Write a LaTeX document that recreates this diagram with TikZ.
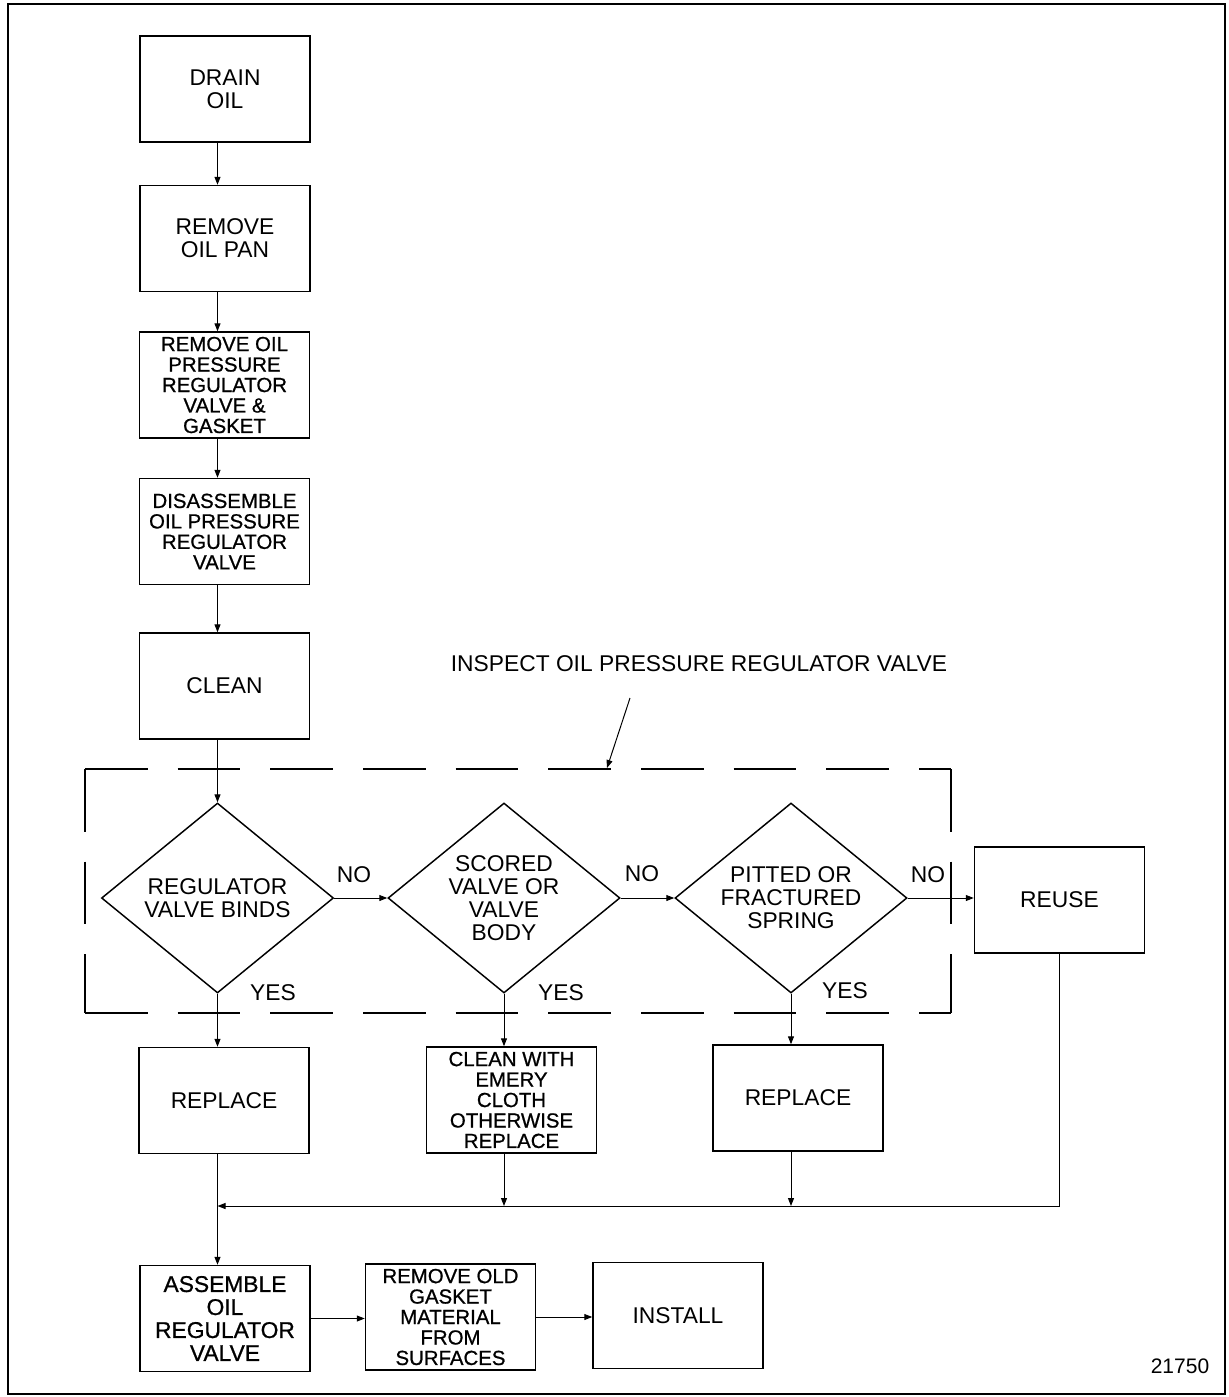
\documentclass[tikz,border=0pt]{standalone}
\usepackage{fontspec}
\setmainfont{Liberation Sans}
\newfontfamily\heavyface{Liberation Sans}[FakeBold=0.8]
\usetikzlibrary{arrows.meta,shapes.geometric}
\newcommand\bigtxt{\fontsize{17.1}{17.25}\selectfont}
\newcommand\heavybig{\heavyface\fontsize{17.1}{17.25}\selectfont}
\newcommand\heavysmall{\heavyface\fontsize{15.3}{15.35}\selectfont}
\begin{document}
\begin{tikzpicture}[x=0.75pt,y=-0.75pt,
  box/.style={draw,line width=1.1pt,minimum width=127.5pt,minimum height=79.5pt,
    inner sep=0pt,align=center,font=\bigtxt},
  densebox/.style={box,font=\heavysmall},
  decision/.style={draw,diamond,line width=1.1pt,minimum width=174pt,
    minimum height=142.5pt,aspect=1.22,inner sep=0pt,align=center,font=\bigtxt},
  arr/.style={line width=0.75pt,-{Triangle[length=6pt,width=4.5pt]}},
  link/.style={line width=0.75pt},
  lbl/.style={inner sep=0pt,font=\bigtxt},
  group/.style={line width=1.9pt,dash pattern=on 47pt off 22.5pt}
]
\useasboundingbox (0,0) rectangle (1229,1397);

% outer frame
\draw[line width=2.2pt] (8,4) rectangle (1225,1394);

% preparation steps
\node[box] (drain) at (225,89) {DRAIN\\OIL};
\node[box] (pan) at (225,238.5) {REMOVE\\OIL PAN};
\node[densebox] (rmvalve) at (224.5,385) {REMOVE OIL\\PRESSURE\\REGULATOR\\VALVE \&\\GASKET};
\node[densebox] (disasm) at (224.5,531.5) {DISASSEMBLE\\OIL PRESSURE\\REGULATOR\\VALVE};
\node[box] (clean) at (224.5,686) {CLEAN};

% inspection decisions
\node[decision] (d1) at (217.5,898) {REGULATOR\\VALVE BINDS};
\node[decision] (d2) at (504,898) {SCORED\\VALVE OR\\VALVE\\BODY};
\node[decision] (d3) at (791,898) {PITTED OR\\FRACTURED\\SPRING};
\node[box] (reuse) at (1059.5,900) {REUSE};

% outcomes
\node[box] (rep1) at (224,1100.5) {REPLACE};
\node[densebox] (emery) at (511.5,1100) {CLEAN WITH\\EMERY\\CLOTH\\OTHERWISE\\REPLACE};
\node[box] (rep2) at (798,1098) {REPLACE};

% reassembly
\node[box,font=\heavybig] (assemble) at (225,1318.5) {ASSEMBLE\\OIL\\REGULATOR\\VALVE};
\node[densebox] (oldgasket) at (450.5,1317) {REMOVE OLD\\GASKET\\MATERIAL\\FROM\\SURFACES};
\node[box] (install) at (678,1315.5) {INSTALL};

% inspection group outline and its caption
\coordinate (gTL) at (85,769);
\coordinate (gBR) at (951,1013);
\draw[group] (gTL) -- (gTL -| gBR);
\draw[group] (gTL) -- (gTL |- gBR);
\draw[group] (gTL |- gBR) -- (gBR);
\draw[group] (gTL -| gBR) -- (gBR);
\node[lbl] (inspect) at (699,664) {INSPECT OIL PRESSURE REGULATOR VALVE};
\coordinate (leadtop) at (630,698);
\coordinate (leadtip) at (607,768);
\draw[arr] (leadtop) -- (leadtip);

% main column
\draw[arr] (d1.north |- drain.south) -- (d1.north |- pan.north);
\draw[arr] (d1.north |- pan.south) -- (d1.north |- rmvalve.north);
\draw[arr] (d1.north |- rmvalve.south) -- (d1.north |- disasm.north);
\draw[arr] (d1.north |- disasm.south) -- (d1.north |- clean.north);
\draw[arr] (d1.north |- clean.south) -- (d1.north);

% NO branches
\draw[arr] (d1.east) -- (d2.west);
\draw[arr] (d2.east) -- (d3.west);
\draw[arr] (d3.east) -- (d3.east -| reuse.west);
\node[lbl] (no1) at (354,875) {NO};
\node[lbl] (no2) at (642,874) {NO};
\node[lbl] (no3) at (928,875) {NO};

% YES branches
\draw[arr] (d1.south) -- (d1.south |- rep1.north);
\draw[arr] (d2.south) -- (d2.south |- emery.north);
\draw[arr] (d3.south) -- (d3.south |- rep2.north);
\node[lbl] (yes1) at (273,993) {YES};
\node[lbl] (yes2) at (561,993) {YES};
\node[lbl] (yes3) at (845,991) {YES};

% collecting line back to reassembly
\coordinate (join) at (217.5,1206);
\draw[arr] (reuse.south) |- (join);
\draw[arr] (d2.south |- emery.south) -- (d2.south |- join);
\draw[arr] (d3.south |- rep2.south) -- (d3.south |- join);
\draw[arr] (d1.south |- rep1.south) -- (d1.south |- assemble.north);

% final steps
\draw[arr] (assemble.east) -- (assemble.east -| oldgasket.west);
\draw[arr] (oldgasket.east) -- (oldgasket.east -| install.west);

\node[inner sep=0pt,font=\fontsize{15.75}{16}\selectfont] (fignum) at (1180,1366) {21750};
\end{tikzpicture}
\end{document}
